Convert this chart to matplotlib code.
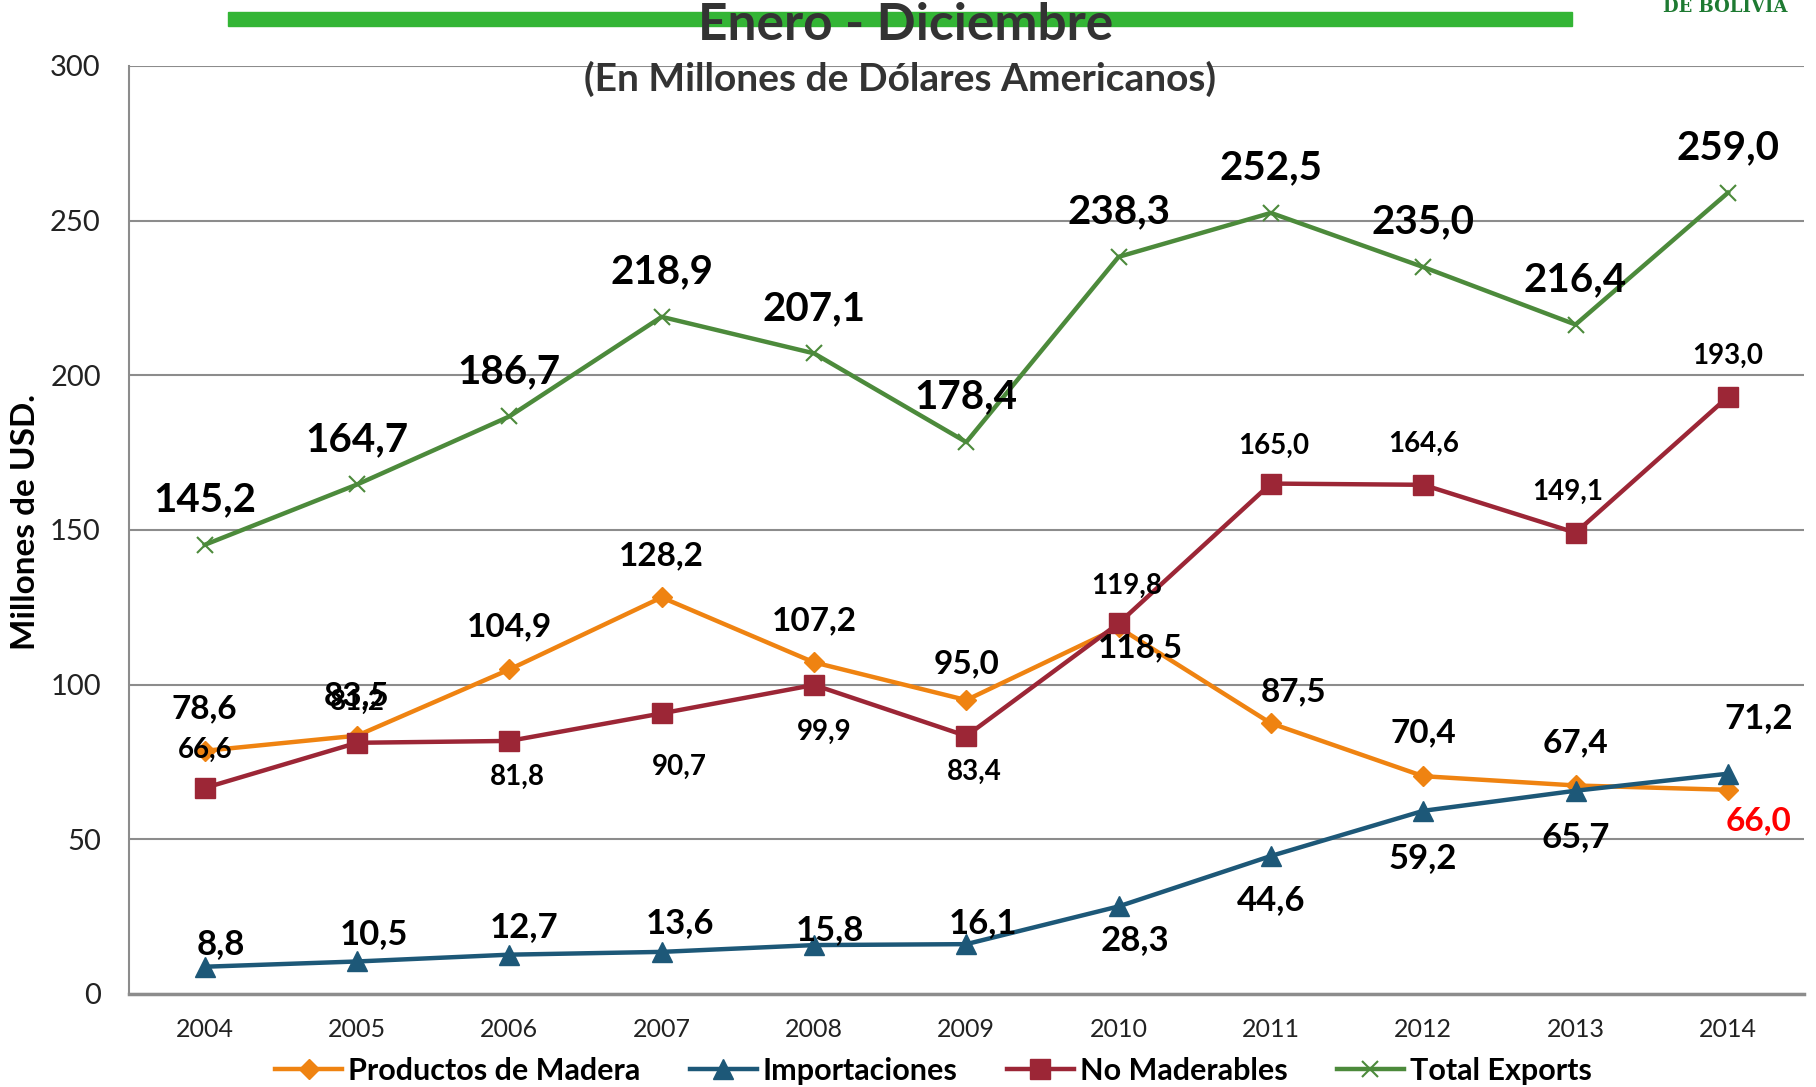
import matplotlib
matplotlib.use("Agg")
import matplotlib.pyplot as plt
from matplotlib.patches import Rectangle

plt.rcParams['font.family'] = ['Lato', 'DejaVu Sans']

years = ['2004', '2005', '2006', '2007', '2008', '2009', '2010', '2011', '2012', '2013', '2014']
madera = [78.6, 83.5, 104.9, 128.2, 107.2, 95.0, 118.5, 87.5, 70.4, 67.4, 66.0]
importaciones = [8.8, 10.5, 12.7, 13.6, 15.8, 16.1, 28.3, 44.6, 59.2, 65.7, 71.2]
no_maderables = [66.6, 81.2, 81.8, 90.7, 99.9, 83.4, 119.8, 165.0, 164.6, 149.1, 193.0]
total_exports = [145.2, 164.7, 186.7, 218.9, 207.1, 178.4, 238.3, 252.5, 235.0, 216.4, 259.0]

# label offsets (pixels) - hand placed like the original
off_madera = [(0, 42), (0, 40), (0, 43), (0, 42), (0, 42), (0, 36), (22, -20), (23, 31), (0, 43), (0, 43), (31, -31)]
off_import = [(16, 23), (17, 27), (15, 28), (18, 29), (16, 15), (17, 21), (16, -34), (0, -44), (0, -47), (0, -46), (31, 56)]
off_nomad = [(0, 38), (0, 41), (8, -36), (18, -53), (10, -47), (8, -36), (8, 38), (3, 38), (0, 41), (-8, 41), (0, 41)]
off_total = [(0, 45)] * 11

c_orange = '#EF8311'
c_blue = '#1D5878'
c_red = '#9C2636'
c_green = '#4C8A3B'

fig = plt.figure(figsize=(18.16, 10.87), dpi=100)
ax = fig.add_axes([0.0708, 0.0856, 0.9226, 0.8537])

x = list(range(len(years)))
ax.plot(x, madera, color=c_orange, lw=3.2, marker='D', ms=10, label='Productos de Madera', zorder=3)
ax.plot(x, importaciones, color=c_blue, lw=3.2, marker='^', ms=15, label='Importaciones', zorder=3)
ax.plot(x, no_maderables, color=c_red, lw=3.2, marker='s', ms=14, label='No Maderables', zorder=3)
ax.plot(x, total_exports, color=c_green, lw=3.2, marker='x', ms=11, mew=1.5, label='Total Exports', zorder=3)

def labels(vals, offs, size, color_last=None):
    for i, (v, o) in enumerate(zip(vals, offs)):
        col = 'black'
        if color_last and i == len(vals) - 1:
            col = color_last
        ax.annotate(f'{v:.1f}'.replace('.', ','), (i, v), xytext=o, textcoords='offset pixels',
                    ha='center', va='center', fontsize=size, fontweight='bold', color=col, zorder=5)

labels(total_exports, off_total, 29)
labels(madera, off_madera, 24, color_last='#FF0000')
labels(importaciones, off_import, 25)
labels(no_maderables, off_nomad, 20)

ax.set_xlim(-0.5, 10.5)
ax.set_ylim(0, 300)
ax.set_yticks(range(0, 301, 50))
ax.set_xticks(x)
ax.set_xticklabels(years)
ax.tick_params(axis='y', length=0, pad=20, labelsize=21, labelcolor='#222222')
ax.tick_params(axis='x', length=0, pad=17, labelsize=18, labelcolor='#222222')
ax.grid(axis='y', color='#8c8c8c', lw=1.5)
ax.set_axisbelow(True)
for s in ['top', 'right']:
    ax.spines[s].set_visible(False)
ax.spines['left'].set_color('#8c8c8c')
ax.spines['left'].set_linewidth(1.5)
ax.spines['bottom'].set_color('#8c8c8c')
ax.spines['bottom'].set_linewidth(2.5)

fig.text(0.014, 0.52, 'Millones de USD.', rotation=90, ha='center', va='center',
         fontsize=24, fontweight='bold', color='black')

# green banner + titles
fig.patches.append(Rectangle((0.1256, 0.9765), 0.740, 0.0128, transform=fig.transFigure,
                             color='#33B535', zorder=0))
fig.text(0.4987, 0.9765, 'Enero - Diciembre', ha='center', va='center', fontsize=37,
         fontweight='bold', color='#333333', zorder=2)
fig.text(0.4955, 0.9276, '(En Millones de Dólares Americanos)', ha='center', va='center',
         fontsize=28, fontweight='bold', color='#333333')
fig.text(0.95, 0.994, 'DE BOLIVIA', ha='center', va='center', fontsize=13,
         fontweight='bold', color='#1E7A32', family='DejaVu Serif')

fig.legend(loc='center', bbox_to_anchor=(0.514, 0.0147), ncol=4, frameon=False,
           prop={'weight': 'bold', 'size': 22}, handlelength=2.2,
           handletextpad=0.2, columnspacing=1.6, borderaxespad=0)

fig.savefig('out.png', dpi=100)
